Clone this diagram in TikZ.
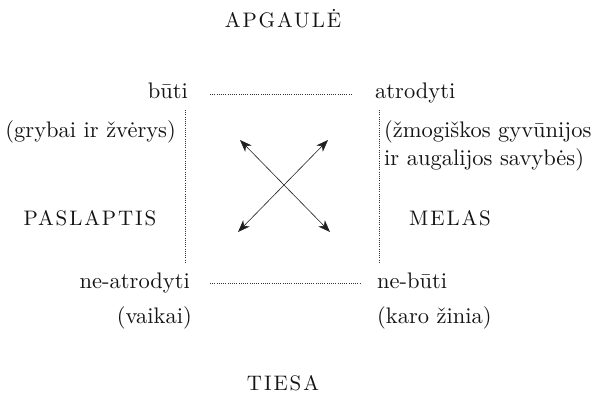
\documentclass[tikz,border=0pt]{standalone}
\usepackage{fontspec}
\setmainfont{lmroman10-regular}[Extension=.otf]
\usetikzlibrary{arrows.meta,calc}
\newcommand\spacedcaps[1]{{\addfontfeature{LetterSpace=9}#1}}

\begin{document}
\begin{tikzpicture}[
  x=1pt, y=-1pt,
  word/.style={inner sep=0pt, text=black!92, font=\fontsize{22.5}{28}\selectfont},
  note/.style={word, align=left},
  corner/.style={inner sep=0pt, text=black!92, font=\fontsize{21}{24}\selectfont},
  dotline/.style={line width=0.6pt, dash pattern=on 0.7pt off 1.5pt, black!80},
  cross/.style={{Stealth[length=12pt,width=9pt,inset=3.5pt]}-{Stealth[length=12pt,width=9pt,inset=3.5pt]}, line width=0.6pt, black!88}]
\useasboundingbox (0,0) rectangle (605,396);

% the four sides
\node[corner, anchor=base] (apg) at (283,28) {\spacedcaps{APGAULĖ}};
\node[corner, anchor=base] (ties) at (283,390) {\spacedcaps{TIESA}};
\node[corner, anchor=base] (pasl) at (90,225) {\spacedcaps{PASLAPTIS}};
\node[corner, anchor=base] (mel) at (450,225) {\spacedcaps{MELAS}};

% the four terms
\node[word, anchor=base east] (buti) at (188,98) {būti};
\node[word, anchor=base west] (atr) at (375,98) {atrodyti};
\node[word, anchor=base east] (neatr) at (190,288) {ne-atrodyti};
\node[word, anchor=base west] (nebuti) at (377,288) {ne-būti};

\node[word, anchor=base east] (gryb) at (176,137) {(grybai ir žvėrys)};
\node[note, anchor=base west] (zmog) at (384,165) {(žmogiškos gyvūnijos\\ir augalijos savybės)};
\node[word, anchor=base east] (vaik) at (192,323) {(vaikai)};
\node[word, anchor=base west] (karo) at (377,323) {(karo žinia)};

% dotted sides
\draw[dotline] ($(buti.base east)+(22pt,4pt)$) -- ($(atr.base west)+(-22pt,4pt)$);
\draw[dotline] ($(neatr.base east)+(20pt,5pt)$) -- ($(nebuti.base west)+(-17pt,5pt)$);
\draw[dotline] ($(buti.base east)+(-3pt,-12pt)$) -- ($(buti.base east |- neatr.base)+(-3pt,25pt)$);
\draw[dotline] ($(atr.base west)+(4pt,-12pt)$) -- ($(atr.base west |- nebuti.base)+(4pt,25pt)$);

% diagonals
\coordinate (ul) at (240,140);
\coordinate (ur) at (328,140);
\coordinate (ll) at (238,232);
\coordinate (lr) at (330,232);
\draw[cross] (ul) -- (lr);
\draw[cross] (ll) -- (ur);
\end{tikzpicture}
\end{document}
